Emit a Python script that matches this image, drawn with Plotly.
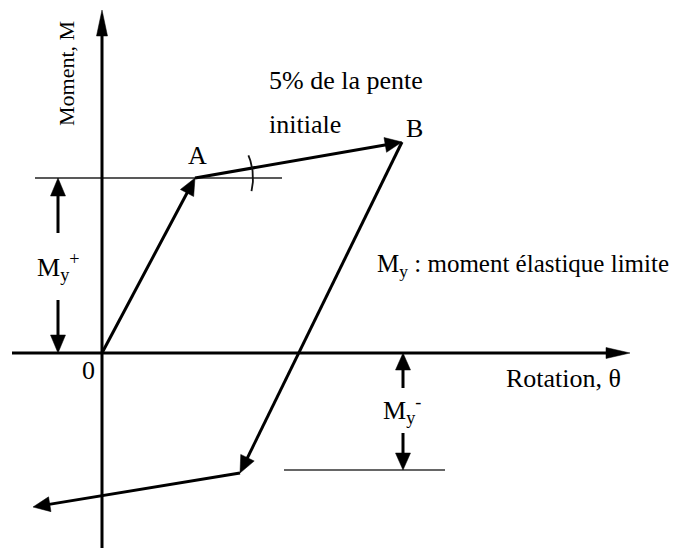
import numpy as np
import plotly.graph_objects as go

# ---- data (diagram coordinates: rotation theta, moment M) ----
path_theta = [0, 93, 300, 138, -69]      # O, A, B, C, D
path_M = [0, 175, 211, -120, -154]
My_pos = 175
My_neg = -117
theta_axis = [-90, 528]
M_axis = [-195, 343]
My_pos_line = [-67, 180]
My_neg_line = [182, 343]
My_pos_x = -44
My_neg_x = 301
arc_radius = 58
arc_angles = [-13, 23]

# page body has an 8px margin: place origin accordingly and avoid overflow
PAD = 8
W, H = 680 - 2 * PAD, 556 - 2 * PAD
OX, OY = 102 - PAD, 353 - PAD
FONT = "Liberation Serif"

fig = go.Figure()


def line(xs, ys, w=3, color="black"):
    fig.add_trace(go.Scatter(x=xs, y=ys, mode="lines",
                             line=dict(color=color, width=w),
                             hoverinfo="skip", showlegend=False))


def arrow(x0, y0, x1, y1, L, hw, lw=3, color="black"):
    d = np.array([x1 - x0, y1 - y0], dtype=float)
    n = d / np.linalg.norm(d)
    p = np.array([-n[1], n[0]])
    tip = np.array([x1, y1], dtype=float)
    base = tip - n * L
    shaft_end = tip - n * L * 0.5
    line([x0, shaft_end[0]], [y0, shaft_end[1]], w=lw, color=color)
    tri = [tip, base + p * hw, base - p * hw, tip]
    fig.add_trace(go.Scatter(x=[t[0] for t in tri], y=[t[1] for t in tri],
                             mode="lines", fill="toself", fillcolor=color,
                             line=dict(color=color, width=0.5),
                             hoverinfo="skip", showlegend=False))


# thin reference lines
line(My_pos_line, [My_pos, My_pos], w=1.6, color="#222")
line(My_neg_line, [My_neg, My_neg], w=1.6, color="#333")

# axes
arrow(theta_axis[0], 0, theta_axis[1], 0, 24, 5.5, lw=3)
arrow(0, M_axis[0], 0, M_axis[1], 26, 5.5, lw=3)

# hysteresis path
for i in range(len(path_theta) - 1):
    arrow(path_theta[i], path_M[i], path_theta[i + 1], path_M[i + 1], 17, 7.5, lw=3)

# slope arc at A
ang = np.radians(np.linspace(arc_angles[0], arc_angles[1], 30))
line(list(path_theta[1] + arc_radius * np.cos(ang)),
     list(path_M[1] + arc_radius * np.sin(ang)), w=1.8, color="#111")

# My indicators
arrow(My_pos_x, 120, My_pos_x, My_pos, 18, 7.5, lw=3)
arrow(My_pos_x, 53, My_pos_x, 0, 18, 7.5, lw=3)
arrow(My_neg_x, -35, My_neg_x, 0, 17, 7.5, lw=3)
arrow(My_neg_x, -80, My_neg_x, My_neg, 17, 7.5, lw=3)

labels = [
    ("5% de la pente", 165, 273, "left", 0, 26),
    ("initiale", 165, 229, "left", 0, 26),
    ("A", 95, 198, "center", 0, 26),
    ("B", 312, 225, "center", 0, 26),
    ("M<sub>y</sub> : moment élastique limite", 421, 88, "center", 0, 25),
    ("Rotation, θ", 461, -25, "center", 0, 26),
    ("0", -14, -17, "center", 0, 26),
    ("M<sub>y</sub><sup>+</sup>", -44, 86, "center", 0, 26),
    ("M<sub>y</sub><sup>-</sup>", 300, -57, "center", 0, 26),
    ("Moment, M", -36, 279, "center", -90, 22),
]
for txt, x, y, xa, ta, fs in labels:
    fig.add_annotation(x=x, y=y, text=txt, showarrow=False, xanchor=xa,
                       yanchor="middle", textangle=ta,
                       font=dict(family=FONT, size=fs, color="black"))

fig.update_layout(
    width=W, height=H, autosize=False,
    margin=dict(l=0, r=0, t=0, b=0),
    paper_bgcolor="white", plot_bgcolor="white",
    showlegend=False,
    xaxis=dict(range=[-OX, W - OX], visible=False, fixedrange=True),
    yaxis=dict(range=[OY - H, OY], visible=False, fixedrange=True),
)
fig.write_html("out.html")
